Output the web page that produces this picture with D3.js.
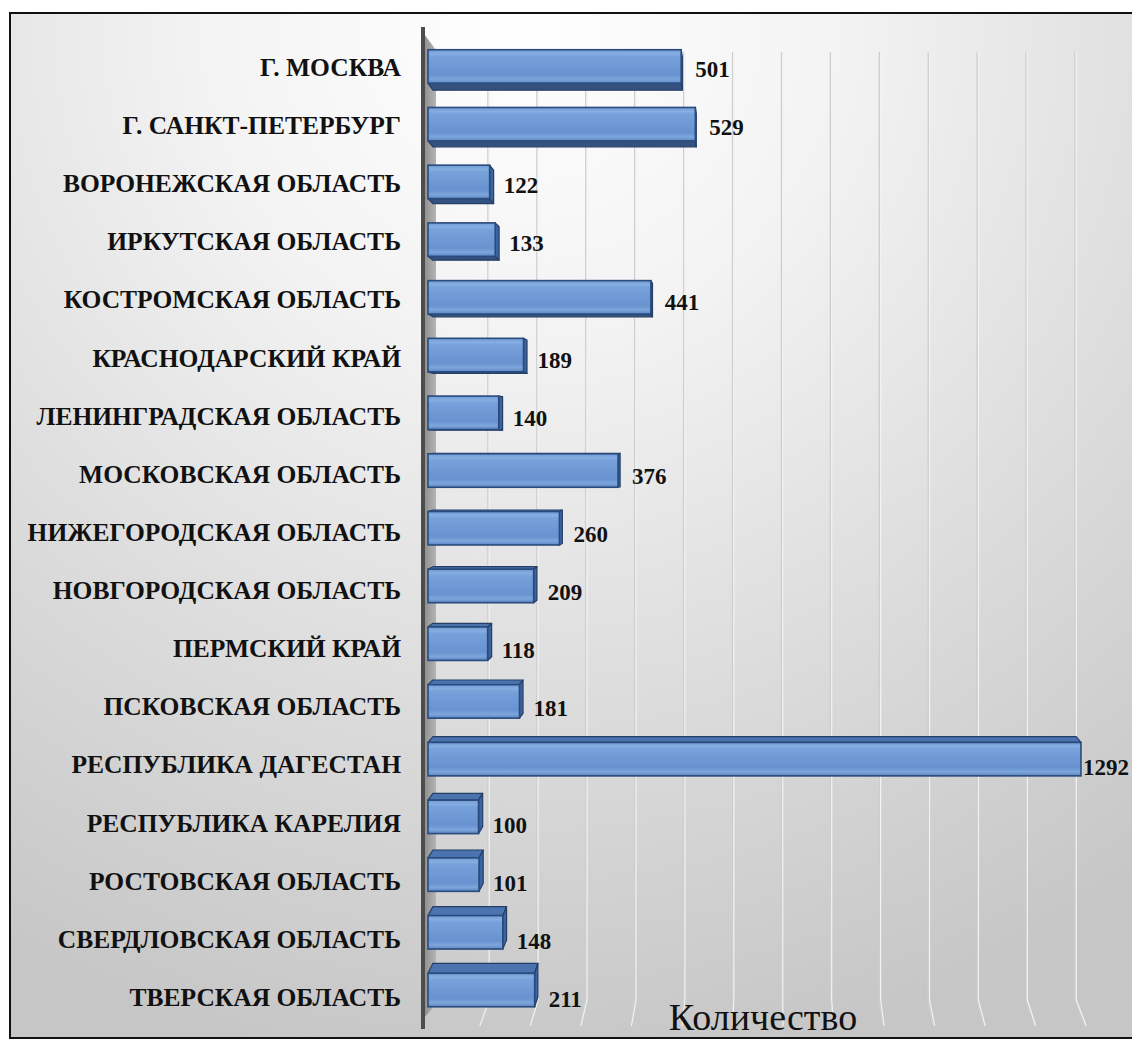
<!DOCTYPE html>
<html><head><meta charset="utf-8">
<script src="https://cdn.jsdelivr.net/npm/d3@7"></script>
</head><body style="margin:0;overflow:hidden">
<svg id="chart" width="1132" height="1040" style="display:block"></svg>
<script>
const categories = [
  "Г. МОСКВА","Г. САНКТ-ПЕТЕРБУРГ","ВОРОНЕЖСКАЯ ОБЛАСТЬ","ИРКУТСКАЯ ОБЛАСТЬ",
  "КОСТРОМСКАЯ ОБЛАСТЬ","КРАСНОДАРСКИЙ КРАЙ","ЛЕНИНГРАДСКАЯ ОБЛАСТЬ","МОСКОВСКАЯ ОБЛАСТЬ",
  "НИЖЕГОРОДСКАЯ ОБЛАСТЬ","НОВГОРОДСКАЯ ОБЛАСТЬ","ПЕРМСКИЙ КРАЙ","ПСКОВСКАЯ ОБЛАСТЬ",
  "РЕСПУБЛИКА ДАГЕСТАН","РЕСПУБЛИКА КАРЕЛИЯ","РОСТОВСКАЯ ОБЛАСТЬ","СВЕРДЛОВСКАЯ ОБЛАСТЬ",
  "ТВЕРСКАЯ ОБЛАСТЬ"
];
const values = [501,529,122,133,441,189,140,376,260,209,118,181,1292,100,101,148,211];
const gridValues = [100,200,300,400,500,600,700,800,900,1000,1100,1200,1300];
const axisTitle = "Количество";

const svg = d3.select("#chart");
const defs = svg.append("defs");

const bg = defs.append("radialGradient").attr("id","bg")
  .attr("gradientUnits","userSpaceOnUse").attr("cx",520).attr("cy",20).attr("r",1060);
[[0,"#ffffff"],[0.3,"#f3f3f3"],[0.65,"#dcdcdc"],[1,"#c6c6c6"]].forEach(([o,c])=>
  bg.append("stop").attr("offset",o).attr("stop-color",c));

const fg = defs.append("linearGradient").attr("id","front").attr("x1",0).attr("y1",0).attr("x2",0).attr("y2",1);
[[0,"#6f9ad4"],[0.12,"#86aee2"],[0.2,"#76a1da"],[0.75,"#6893d0"],[0.88,"#7ea6dc"],[1,"#5a85c2"]].forEach(([o,c])=>
  fg.append("stop").attr("offset",o).attr("stop-color",c));

const wallG = defs.append("linearGradient").attr("id","wall").attr("x1",0).attr("y1",0).attr("x2",1).attr("y2",0);
[[0,"#8e8e8e"],[1,"#b4b4b4"]].forEach(([o,c])=>wallG.append("stop").attr("offset",o).attr("stop-color",c));

svg.append("rect").attr("x",10).attr("y",13).attr("width",1200).attr("height",1025)
  .attr("fill","url(#bg)").attr("stroke","#111").attr("stroke-width",2);

const xFront = d3.scaleLinear().domain([0,1300]).range([428,1085]);
const xBack  = d3.scaleLinear().domain([0,1300]).range([439,1075]);
const yLabel = d3.scaleBand().domain(categories).range([38,1026]).paddingInner(0.42).paddingOuter(0.21);
const yBar   = d3.scaleBand().domain(categories).range([37.6,1018.9]).paddingInner(0.42).paddingOuter(0.21);

const gridTop = 52, gridBend = 1000, gridBottom = 1026;

const grid = svg.append("g");
gridValues.forEach(v=>{
  const pts = [[xBack(v),gridTop],[xBack(v),gridBend],[xFront(v),gridBottom]];
  grid.append("path").attr("d",d3.line()(pts)).attr("fill","none").attr("stroke","#cdcdcd").attr("stroke-width",1.3);
  grid.append("path").attr("d",d3.line()(pts.map(p=>[p[0]+1.3,p[1]]))).attr("fill","none").attr("stroke","#f2f2f2").attr("stroke-width",1.2);
});

svg.append("polygon").attr("points",[[424,34],[436,50],[436,1004],[424,1018]].join(" "))
  .attr("fill","url(#wall)");
svg.append("line").attr("x1",423).attr("x2",423).attr("y1",27).attr("y2",1029)
  .attr("stroke","#4d4d4d").attr("stroke-width",4);

const horizonY = 447, kY = 0.0184, vanishX = 760, kX = 0.0147;
const bars = svg.append("g");
categories.forEach((c,i)=>{
  const v = values[i];
  const x0 = xFront(0), x1 = xFront(v);
  const yT = yBar(c), h = yBar.bandwidth(), yB = yT + h;
  const dy = kY*(horizonY - (yT+h/2));
  const dx1 = kX*(vanishX - x1);
  const dx0 = kX*(vanishX - x0);
  const g = bars.append("g");
  const yE = dy < 0 ? yT : yB;
  g.append("polygon").attr("points",[[x0,yE],[x1,yE],[x1+dx1,yE+dy],[x0+dx0,yE+dy]].join(" "))
    .attr("fill", dy < 0 ? "#4a73b0" : "#34527f").attr("stroke","#243f66").attr("stroke-width",1.2)
    .attr("stroke-linejoin","round");
  if (dx1 > 0) {
    g.append("polygon").attr("points",[[x1,yT],[x1,yB],[x1+dx1,yB+dy],[x1+dx1,yT+dy]].join(" "))
      .attr("fill","#3c64a2").attr("stroke","#243f66").attr("stroke-width",1.2).attr("stroke-linejoin","round");
  }
  g.append("rect").attr("x",x0).attr("y",yT).attr("width",x1-x0).attr("height",h)
    .attr("fill","url(#front)").attr("stroke","#2b4b7c").attr("stroke-width",1.6);
});

function serif(sel){
  return sel.attr("font-family","Liberation Serif").style("font-family","Liberation Serif");
}

categories.forEach(d=>{
  const t = svg.append("text")
    .attr("x",401).attr("y",yLabel(d)+yLabel.bandwidth()/2)
    .attr("dy","0.35em").attr("text-anchor","end")
    .attr("font-size",25.5).attr("font-weight","bold").attr("fill","#111").text(d);
  serif(t);
});

values.forEach((v,i)=>{
  const t = svg.append("text")
    .attr("x",Math.min(xFront(v)+14, 1083))
    .attr("y",yLabel(categories[i])+yLabel.bandwidth()/2+2)
    .attr("dy","0.35em").attr("font-size",23).attr("font-weight","bold").attr("fill","#111").text(v);
  serif(t);
});

serif(svg.append("text").attr("x",763).attr("y",1030).attr("text-anchor","middle")
  .attr("font-size",38).attr("fill","#111").text(axisTitle));
</script>
</body></html>
